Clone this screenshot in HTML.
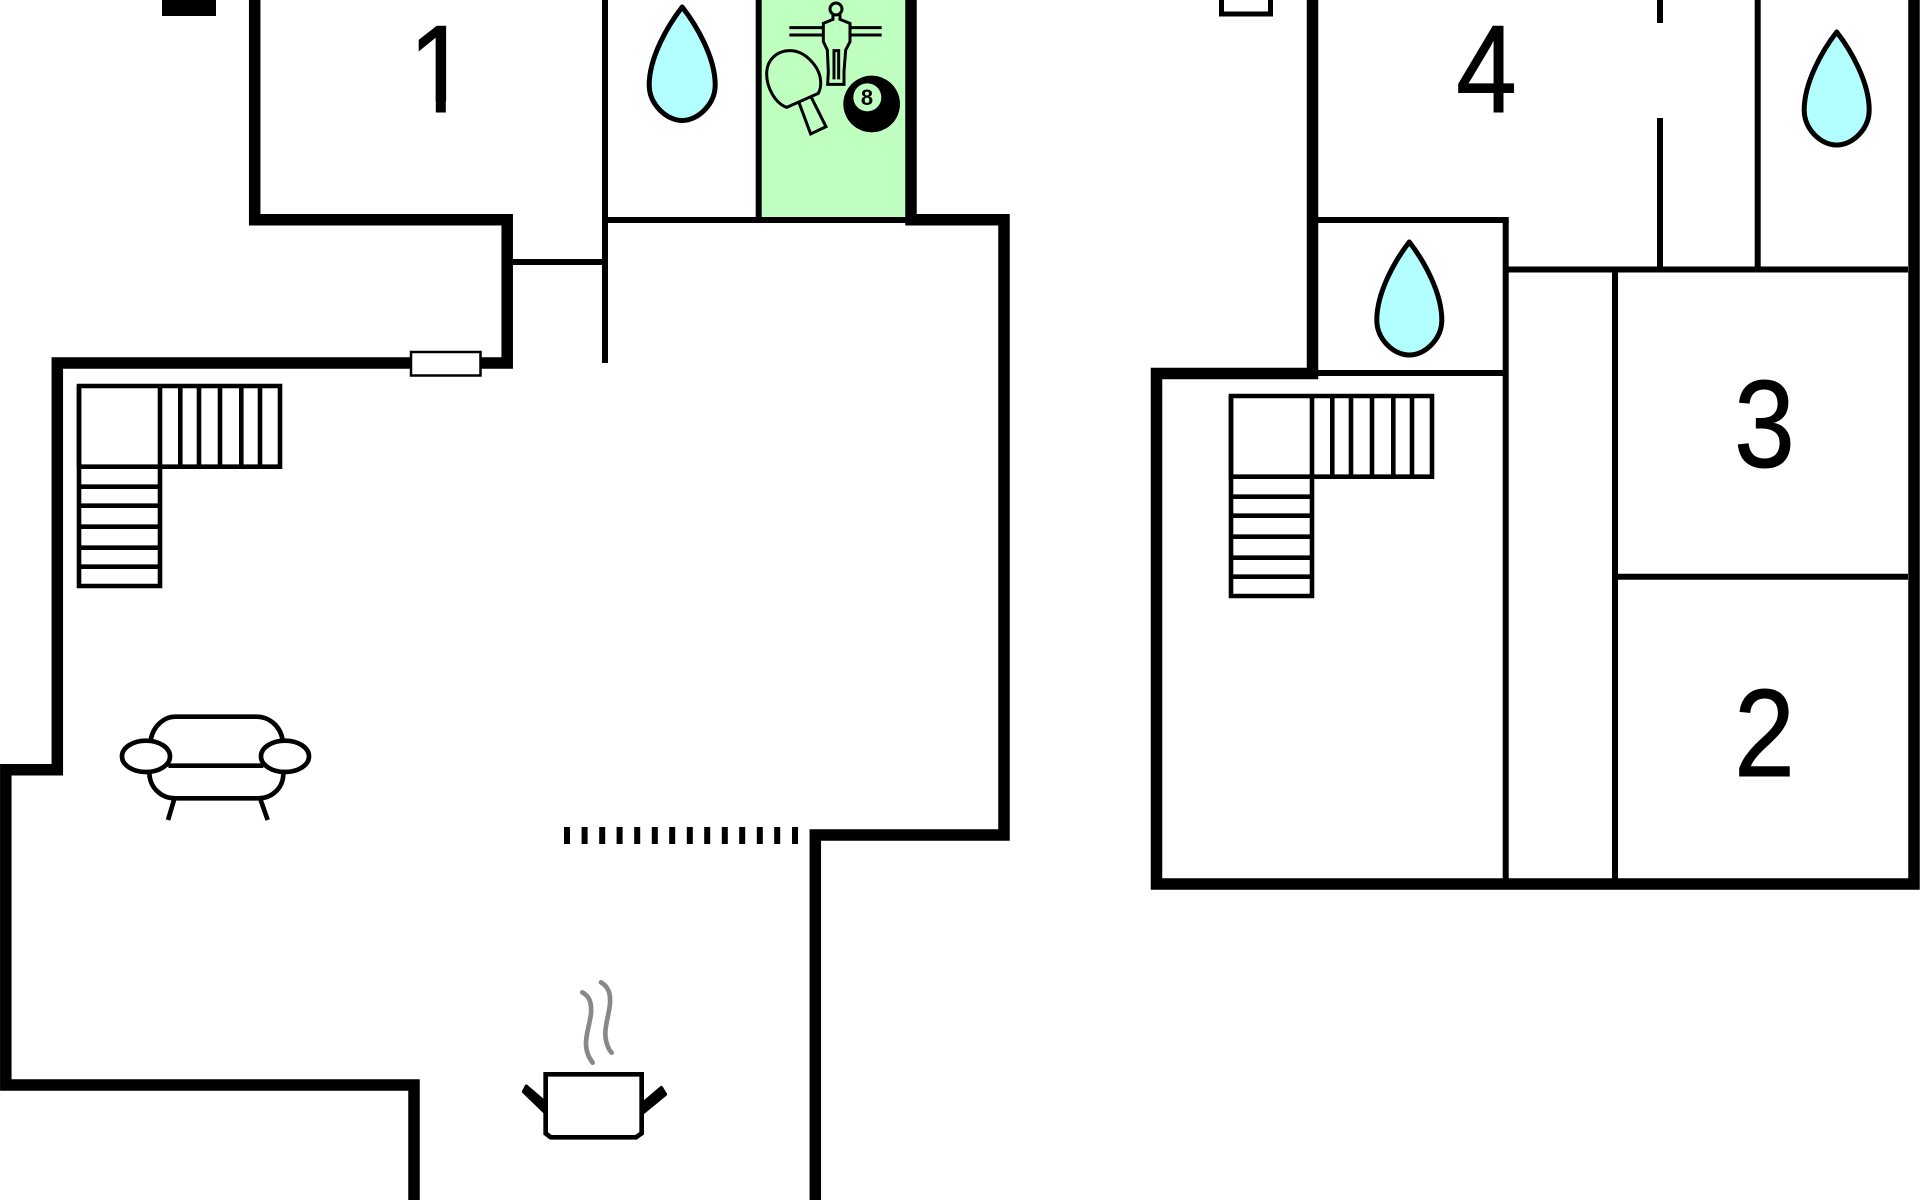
<!DOCTYPE html>
<html lang="en">
<head>
<meta charset="utf-8">
<title>Floor plan</title>
<style>
html,body{margin:0;padding:0;background:#fff;}
svg{display:block;}
</style>
</head>
<body>
<svg xmlns="http://www.w3.org/2000/svg" width="1920" height="1200" viewBox="0 0 1920 1200">
<rect width="1920" height="1200" fill="#fff"/>
<!-- green room -->
<rect x="758" y="0" width="153" height="220" fill="#bfffbf"/>

<!-- thin walls -->
<g stroke="#000" stroke-width="6" fill="none">
<path d="M605 0V363"/>
<path d="M758.7 0V220"/>
<path d="M605 220H911"/>
<path d="M513 262H605"/>
<path d="M1318 220H1508.700"/>
<path d="M1318 373H1505.7"/>
<path d="M1505.7 220V884"/>
<path d="M1505.7 269.5H1908"/>
<path d="M1615 269.5V884"/>
<path d="M1615 576.7H1908"/>
<path d="M1660 0V23"/>
<path d="M1660 118V269.5"/>
<path d="M1757.7 0V269.5"/>
</g>

<!-- thick walls -->
<g stroke="#000" stroke-width="11.5" fill="none" stroke-linejoin="miter">
<path d="M254.7 0V219.7H507.2V363H57.3V769.7H5.8V1085H414V1200"/>
<path d="M815.3 1200V835H1004V219.7H911V0"/>
<path d="M1312.5 0V373.5H1156.5V884H1914V0"/>
</g>

<!-- window -->
<rect x="411" y="352" width="69.5" height="23.5" fill="#fff" stroke="#000" stroke-width="2.5"/>

<!-- black block / small box top -->
<rect x="162" y="0" width="54" height="16" fill="#000"/>
<rect x="1221.5" y="-5" width="49" height="19" fill="#fff" stroke="#000" stroke-width="5"/>

<!-- dashes -->
<g fill="#000">
<rect x="564" y="827" width="6" height="17"/>
<rect x="581.6" y="827" width="6" height="17"/>
<rect x="599.2" y="827" width="6" height="17"/>
<rect x="616.6" y="827" width="6" height="17"/>
<rect x="634.2" y="827" width="6" height="17"/>
<rect x="651.8" y="827" width="6" height="17"/>
<rect x="669.2" y="827" width="6" height="17"/>
<rect x="686.8" y="827" width="6" height="17"/>
<rect x="704.2" y="827" width="6" height="17"/>
<rect x="721.8" y="827" width="6" height="17"/>
<rect x="739.2" y="827" width="6" height="17"/>
<rect x="756.8" y="827" width="6" height="17"/>
<rect x="774.2" y="827" width="6" height="17"/>
<rect x="792" y="827" width="6" height="17"/>
</g>

<!-- stairs left -->
<g stroke="#000" stroke-width="4.6" fill="none">
<path d="M79 386H280V466.7H79Z"/>
<path d="M160 386V586H79V386"/>
<path d="M180.3 386V466.7M199 386V466.7M220 386V466.7M241.3 386V466.7M260 386V466.7"/>
<path d="M79 486.7H160M79 505.7H160M79 526.7H160M79 547.7H160M79 566.7H160"/>
</g>
<!-- stairs right -->
<g transform="translate(1152,10)" stroke="#000" stroke-width="4.6" fill="none">
<path d="M79 386H280V466.7H79Z"/>
<path d="M160 386V586H79V386"/>
<path d="M180.3 386V466.7M199 386V466.7M220 386V466.7M241.3 386V466.7M260 386V466.7"/>
<path d="M79 486.7H160M79 505.7H160M79 526.7H160M79 547.7H160M79 566.7H160"/>
</g>

<!-- drops -->
<g fill="#b3ffff" stroke="#000" stroke-width="5" stroke-linejoin="round">
<path transform="translate(682.2,7)" d="M0 0C14 18 33 50 33 78C33 97 16 113.500 0 113.500C-16 113.500 -33 97 -33 78C-33 50 -14 18 0 0Z"/>
<path transform="translate(1409.3,242)" d="M0 0C14 18 32.500 50 32.500 78C32.500 97 16 113 0 113C-16 113 -32.500 97 -32.500 78C-32.500 50 -14 18 0 0Z"/>
<path transform="translate(1836.7,32)" d="M0 0C14 18 32.500 50 32.500 78C32.500 97 16 113 0 113C-16 113 -32.500 97 -32.500 78C-32.500 50 -14 18 0 0Z"/>
</g>

<!-- numbers -->
<g font-family="'Liberation Sans',sans-serif" font-size="124" fill="#000" stroke="#000" stroke-width="1" text-anchor="middle">
<text transform="translate(439,112) scale(0.88,1)">1</text>
<text transform="translate(1486.500,112) scale(0.88,1)">4</text>
<text transform="translate(1764.500,467) scale(0.88,1)">3</text>
<text transform="translate(1764.500,776) scale(0.88,1)">2</text>
</g>
<!-- hide foot of the 1 -->
<rect x="395" y="101" width="40.800" height="18" fill="#fff"/>
<rect x="445.800" y="101" width="40" height="18" fill="#fff"/>

<!-- games icons -->
<g transform="translate(740,0) scale(0.33333)" fill="none" stroke="#000" stroke-width="9">
<circle cx="288" cy="27" r="18"/>
<path d="M279 44V58L250 70V125L262 150L265 215L263 253H312L312 215L317 150L330 125V70L300 58V44"/>
<path d="M282 238V152H296V238"/>
<path d="M148 83H250M148 105H250M330 83H425M330 105H425"/>
<path d="M140 322C105 310 80 262 80 222C80 180 110 152 150 152C195 152 240 200 242 245C243 258 240 270 235 280Z"/>
<path d="M176 305L212 402L258 380L213 290"/>
<circle cx="395" cy="312" r="85" fill="#000" stroke="none"/>
<circle cx="382" cy="292" r="42" fill="#bfffbf" stroke="none"/>
<text x="381" y="315" font-family="'Liberation Sans',sans-serif" font-weight="bold" font-size="66" text-anchor="middle" fill="#000" stroke="none">8</text>
</g>

<!-- couch -->
<g transform="translate(100,690) scale(0.33333)" fill="none" stroke="#000" stroke-width="14">
<path d="M152 150C160 105 195 80 225 80H470C505 80 540 105 548 150"/>
<path d="M205 227H490"/>
<path d="M148 250C150 295 185 325 225 325H475C515 325 550 295 550 250"/>
<path d="M222 330L204 390M482 330L503 390"/>
<ellipse cx="138" cy="199" rx="72" ry="47"/>
<ellipse cx="555" cy="199" rx="72" ry="47"/>
</g>

<!-- pot -->
<g transform="translate(500,960) scale(0.33333)" fill="none">
<path d="M137 343H425V520L408 532H152L137 520Z" stroke="#000" stroke-width="14" fill="#fff"/>
<path d="M70 395L79 378L133 424V456Z" fill="#000" stroke="#000" stroke-width="9" stroke-linejoin="round"/>
<path d="M484 382L497 403L430 458V428Z" fill="#000" stroke="#000" stroke-width="9" stroke-linejoin="round"/>
<path d="M247 97C270 110 275 130 273 160C270 190 258 220 258 250C258 275 268 295 278 308M303 67C325 80 332 100 330 130C328 160 316 190 316 220C316 245 325 268 335 278" stroke="#888" stroke-width="14" stroke-linecap="round"/>
</g>
</svg>
</body>
</html>
